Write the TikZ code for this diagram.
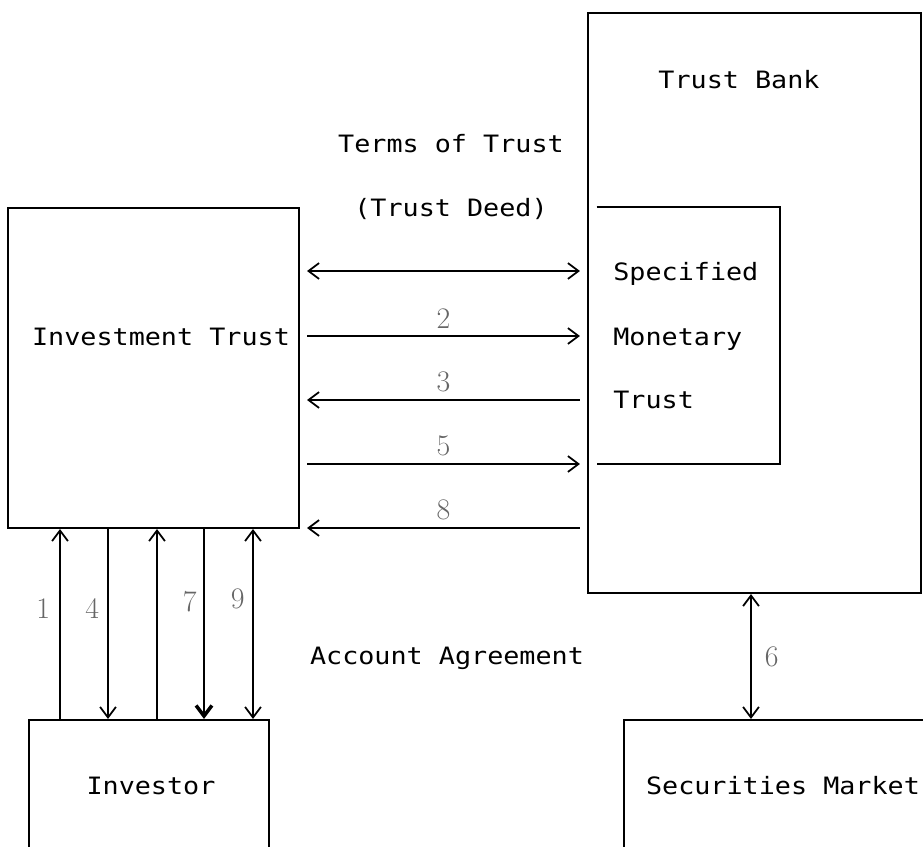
\documentclass[tikz,border=0pt]{standalone}
\usepackage{fontspec}
\usetikzlibrary{arrows.meta,fit,positioning}

\newfontfamily\plotfont[FakeStretch=1.12]{DejaVu Sans Mono}

\tikzset{
  box/.style={draw, line width=1.2pt, inner sep=0pt},
  txt/.style={font=\plotfont\fontsize{13.6}{16}\selectfont, inner sep=0pt, anchor=base},
  num/.style={font=\fontsize{17}{19}\selectfont, text=black!60, inner sep=0pt},
  flow/.style={line width=1pt, shorten >=0.14cm, shorten <=0.14cm},
  link/.style={line width=1pt},
  >={Straight Barb[length=6pt,width=9pt]}
}

\begin{document}
\begin{tikzpicture}[x=0.02cm, y=-0.02cm]

    % Frame
    \clip (0,0) rectangle (923,846);

    % Boxes
    \node[box, fit={(8,208) (299,528)}] (invest) {};
    \node[box, fit={(588,13) (921,593)}] (bank) {};
    \node[box, fit={(29,720) (269,880)}] (investor) {};
    \node[box, fit={(624,720) (960,880)}] (market) {};

    % Specified monetary trust (open on the left)
    \node[inner sep=0pt, fit={(597,207) (780,464)}] (smt) {};
    \draw[line width=1.2pt] (smt.north west) -- (smt.north east) -- (smt.south east) -- (smt.south west);

    % Texts
    \node[txt] (banklab) at (739,88) {Trust Bank};
    \node[txt] (terms) at (451,152) {Terms of Trust};
    \node[txt] (deed) at (451,216) {(Trust Deed)};
    \node[txt] (investlab) at (161,345) {Investment Trust};
    \node[txt, anchor=base west] (spec) at (613,280) {Specified};
    \node[txt, anchor=base west] (mon) at (613,345) {Monetary};
    \node[txt, anchor=base west] (tru) at (613,408) {Trust};
    \node[txt] (account) at (447,664) {Account Agreement};
    \node[txt] (investorlab) at (151,794) {Investor};
    \node[txt] (marketlab) at (783,794) {Securities Market};

    % Rows of the horizontal flows
    \coordinate (r1) at (0,271);
    \coordinate (r2) at (0,336);
    \coordinate (r3) at (0,400);
    \coordinate (r4) at (0,464);
    \coordinate (r5) at (0,528);

    \draw[<->, flow] (invest.east |- r1) -- (bank.west |- r1);
    \draw[->, flow] (invest.east |- r2) -- node[num, midway, above=0.14cm] (n2) {2} (bank.west |- r2);
    \draw[<-, flow] (invest.east |- r3) -- node[num, midway, above=0.14cm] (n3) {3} (bank.west |- r3);
    \draw[->, flow] (invest.east |- r4) -- node[num, midway, above=0.14cm] (n5) {5} (bank.west |- r4);
    \draw[<-, flow] (invest.east |- r5) -- node[num, midway, above=0.14cm] (n8) {8} (bank.west |- r5);

    % Columns of the vertical flows
    \coordinate (c1) at (60,0);
    \coordinate (c2) at (108,0);
    \coordinate (c3) at (157,0);
    \coordinate (c4) at (204,0);
    \coordinate (c5) at (253,0);
    \coordinate (c6) at (751,0);

    \draw[->, link] (investor.north -| c1) -- node[num, pos=0.58, left=0.18cm] (n1) {1} (invest.south -| c1);
    \draw[<-, link] (investor.north -| c2) -- node[num, pos=0.58, left=0.16cm] (n4) {4} (invest.south -| c2);
    \draw[->, link] (investor.north -| c3) -- (invest.south -| c3);
    \draw[{Straight Barb[length=6pt,width=9pt,line width=2pt]}-, link] (investor.north -| c4) -- node[num, pos=0.62, left=0.13cm] (n7) {7} (invest.south -| c4);
    \draw[<->, link] (investor.north -| c5) -- node[num, pos=0.63, left=0.15cm] (n9) {9} (invest.south -| c5);

    \draw[<->, link] (bank.south -| c6) -- node[num, midway, right=0.26cm] (n6) {6} (market.north -| c6);

\end{tikzpicture}
\end{document}
